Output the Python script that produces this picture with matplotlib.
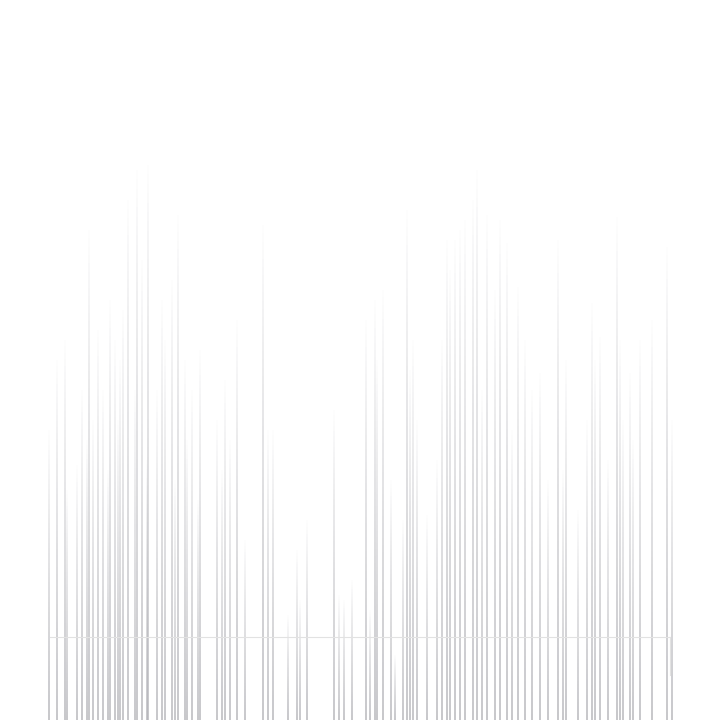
import matplotlib
matplotlib.use("Agg")
import matplotlib.pyplot as plt
import numpy as np
from matplotlib.collections import LineCollection

# posicion horizontal de cada linea y altura (en unidades del eje, 0 = abajo)
posiciones = [49, 57, 65, 77, 82, 89, 93, 98, 103, 110, 115, 120, 123, 128, 137,
              142, 148, 157, 162, 165, 172, 178, 185, 192, 200, 217, 225, 230,
              237, 263, 268, 273, 288, 297, 300, 307, 334, 339, 344, 366, 370,
              375, 377, 383, 391, 395, 407, 410, 413, 417, 427, 442, 447, 450,
              455, 460, 465, 473, 477, 487, 495, 500, 507, 518, 525, 532, 540,
              558, 563, 566, 587, 592, 595, 600, 617, 620, 623, 630, 633, 640,
              667, 672,
              67, 87, 108, 118, 135, 147, 175, 187, 198, 222, 245, 352, 403,
              437, 482, 512, 548, 578, 608, 652]
alturas = [290, 360, 380, 255, 330, 490, 300, 390, 330, 420, 380, 360, 410, 520,
           550, 460, 555, 330, 420, 380, 440, 505, 360, 330, 370, 300, 340, 280,
           400, 495, 290, 290, 105, 170, 120, 200, 310, 125, 120, 400, 110,
           420, 360, 430, 240, 65, 510, 350, 380, 300, 205, 380, 480, 450, 480,
           490, 500, 520, 550, 505, 430, 500, 477, 433, 380, 330, 347, 480,
           250, 360, 300, 417, 360, 383, 503, 380, 300, 347, 280, 380, 473, 300,
           230, 280, 250, 300, 330, 260, 240, 280, 220, 250, 180, 140, 200,
           260, 330, 290, 240, 210, 260, 400]
linea_base = 83

fig = plt.figure(figsize=(7.2, 7.2), dpi=100)
ax = fig.add_axes([0, 0, 1, 1])
ax.set_xlim(0, 720)
ax.set_ylim(0, 720)
ax.axis("off")

segs = []
colores = []
gris = np.array([0.70, 0.70, 0.72])
for x, h in zip(posiciones, alturas):
    ys = np.linspace(0, h, 60)
    for y0, y1 in zip(ys[:-1], ys[1:]):
        segs.append([(x, y0), (x, y1)])
        ym = (y0 + y1) / 2
        a = np.clip((h - ym) / h, 0, 1)
        colores.append((*gris, 0.8 * a ** 0.85))

lc = LineCollection(segs, colors=colores, linewidths=1.3, capstyle="butt")
ax.add_collection(lc)

ax.plot([50, 670], [linea_base, linea_base], color="#e2e2e2", lw=0.8)
ax.plot([670, 670], [linea_base, 45], color="#e2e2e2", lw=0.8)

fig.savefig("out.png", dpi=100)
